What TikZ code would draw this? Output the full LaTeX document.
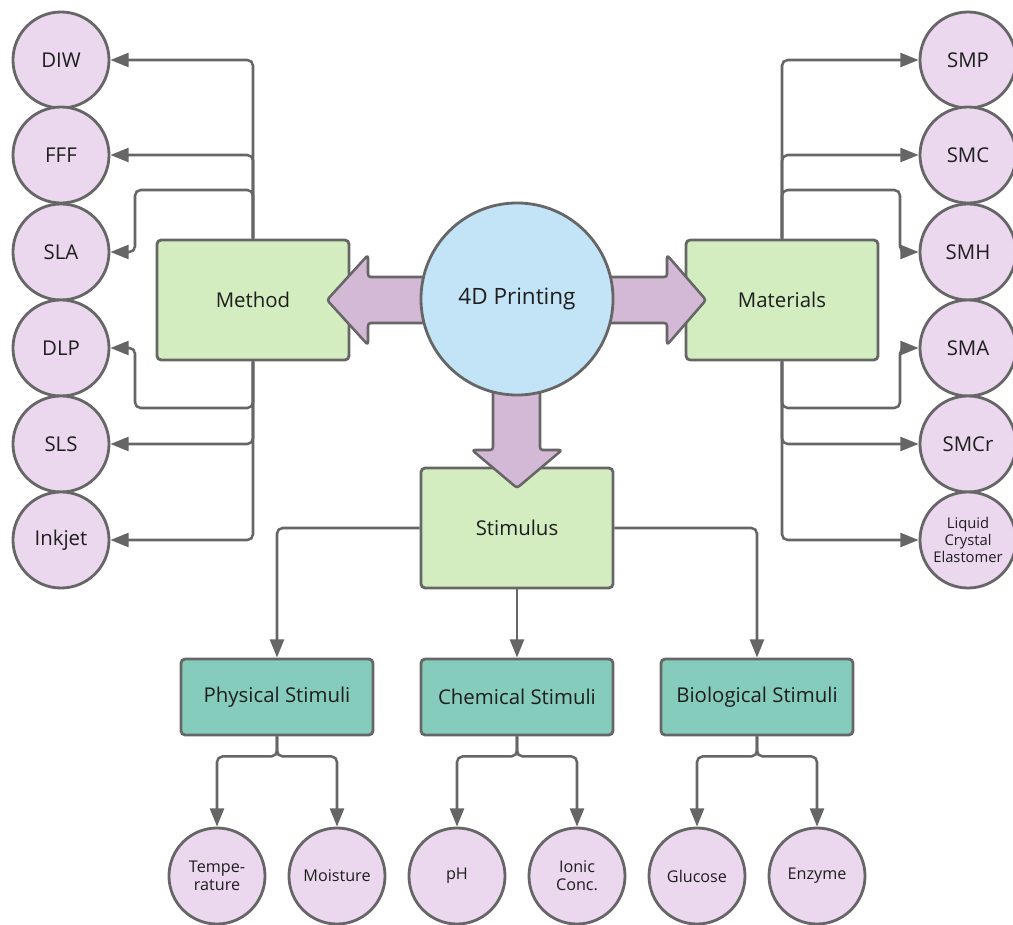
\documentclass[tikz,border=0pt]{standalone}
\usepackage{fontspec}
\setmainfont{Open Sans}
\usetikzlibrary{arrows.meta}
\definecolor{linegray}{HTML}{666666}
\definecolor{leafpink}{HTML}{EBD7EE}
\definecolor{boxgreen}{HTML}{D3EDC1}
\definecolor{coreblue}{HTML}{C3E3F6}
\definecolor{subteal}{HTML}{85CCBC}
\definecolor{fatpurple}{HTML}{D3B9D5}
\definecolor{inkgray}{HTML}{1E1E1E}

\begin{document}
\begin{tikzpicture}[x=0.025cm, y=-0.025cm,
		leaf/.style={draw=linegray, line width=2pt, fill=leafpink, circle, minimum size=2.4cm, inner sep=1pt, align=center, text=inkgray, font=\fontsize{14.5}{16}\selectfont},
		smallleaf/.style={leaf, font=\fontsize{11.5}{13}\selectfont},
		mainbox/.style={draw=linegray, line width=2pt, fill=boxgreen, rectangle, rounded corners=3pt, minimum width=4.8cm, minimum height=3cm, text=inkgray, font=\fontsize{14.5}{16}\selectfont},
		subbox/.style={mainbox, fill=subteal, minimum height=1.9cm},
		link/.style={draw=linegray, line width=1.8pt, rounded corners=4pt, -{Triangle[length=13pt, width=10pt]}},
		fatarrow/.style={draw=linegray, line width=1.8pt, fill=fatpurple, rounded corners=2pt, line join=round}]
		\useasboundingbox (0, 0) rectangle (1013, 925);
		% method leaves
		\node[leaf] (diw) at (61, 60) {DIW};
		\node[leaf] (fff) at (61, 155) {FFF};
		\node[leaf] (sla) at (61, 252) {SLA};
		\node[leaf] (dlp) at (61, 348) {DLP};
		\node[leaf] (sls) at (61, 444) {SLS};
		\node[leaf] (inkjet) at (61, 540) {Inkjet};
		% material leaves
		\node[leaf] (smp) at (968, 60) {SMP};
		\node[leaf] (smc) at (968, 155) {SMC};
		\node[leaf] (smh) at (968, 252) {SMH};
		\node[leaf] (sma) at (968, 348) {SMA};
		\node[leaf] (smcr) at (968, 444) {SMCr};
		\node[smallleaf, font=\fontsize{10.5}{12}\selectfont] (lce) at (968, 540) {Liquid\\Crystal\\Elastomer};
		% boxes
		\node[mainbox] (method) at (253, 300) {Method};
		\node[mainbox] (materials) at (782, 300) {Materials};
		\node[mainbox] (stimulus) at (517, 528) {Stimulus};
		\node[subbox] (physical) at (277, 697) {Physical Stimuli};
		\node[subbox] (chemical) at (517, 697) {Chemical Stimuli};
		\node[subbox] (biological) at (757, 697) {Biological Stimuli};
		% stimulus leaves
		\node[smallleaf] (temp) at (217, 876) {Tempe-\\rature};
		\node[smallleaf] (moisture) at (337, 876) {Moisture};
		\node[smallleaf] (ph) at (457, 876) {pH};
		\node[smallleaf] (ionic) at (577, 876) {Ionic\\Conc.};
		\node[smallleaf] (glucose) at (697, 876) {Glucose};
		\node[smallleaf] (enzyme) at (817, 876) {Enzyme};
		% fat arrows
		\draw[fatarrow] (430, 277) -- (368, 277) -- (368, 255) -- (327, 300) -- (368, 345) -- (368, 323) -- (430, 323) -- cycle;
		\draw[fatarrow] (604, 277) -- (667, 277) -- (667, 255) -- (706, 300) -- (667, 345) -- (667, 323) -- (604, 323) -- cycle;
		\draw[fatarrow] (493, 385) -- (493, 450) -- (472, 450) -- (517, 488) -- (562, 450) -- (540, 450) -- (540, 385) -- cycle;
		\node[draw=linegray, line width=2pt, fill=coreblue, circle, minimum size=4.8cm, text=inkgray, font=\fontsize{16}{18}\selectfont] (core) at (517, 299) {4D Printing};
		% method links
		\draw[link] (method.north) |- (diw);
		\draw[link] (method.north) |- (fff);
		\draw[link] (method.north) |- (135, 190) |- (sla);
		\draw[link] (method.south) |- (135, 408) |- (dlp);
		\draw[link] (method.south) |- (sls);
		\draw[link] (method.south) |- (inkjet);
		% material links
		\draw[link] (materials.north) |- (smp);
		\draw[link] (materials.north) |- (smc);
		\draw[link] (materials.north) |- (900, 190) |- (smh);
		\draw[link] (materials.south) |- (900, 408) |- (sma);
		\draw[link] (materials.south) |- (smcr);
		\draw[link] (materials.south) |- (lce);
		% stimulus links
		\draw[link] (stimulus.west) -| (physical);
		\draw[link] (stimulus) -- (chemical);
		\draw[link] (stimulus.east) -| (biological);
		\draw[link] (physical.south) -- ++(0, 20) -| (temp);
		\draw[link] (physical.south) -- ++(0, 20) -| (moisture);
		\draw[link] (chemical.south) -- ++(0, 20) -| (ph);
		\draw[link] (chemical.south) -- ++(0, 20) -| (ionic);
		\draw[link] (biological.south) -- ++(0, 20) -| (glucose);
		\draw[link] (biological.south) -- ++(0, 20) -| (enzyme);
	\end{tikzpicture}
\end{document}
